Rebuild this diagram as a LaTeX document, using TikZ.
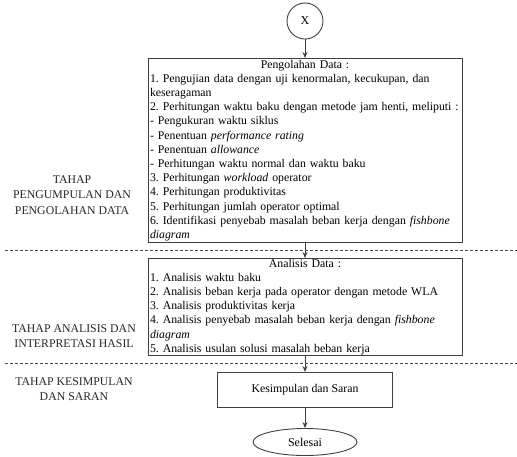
\documentclass[tikz,border=0pt]{standalone}
\usepackage{fontspec}
\setmainfont{Liberation Serif}
\frenchspacing
\usetikzlibrary{arrows.meta,shapes.geometric}
\newcommand{\boxfont}{\fontsize{11.8pt}{14.2pt}\selectfont}
\begin{document}
\begin{tikzpicture}[x=1pt,y=-1pt,
  boxtxt/.style={draw=black!75,line width=0.9pt,rectangle,inner xsep=2pt,inner ysep=0pt,
    font=\boxfont},
  lbl/.style={align=center,font=\fontsize{11.8}{14.5}\selectfont,inner sep=0pt,text=black!85},
  flow/.style={draw=black!75,line width=0.9pt,-{Stealth[length=6pt,width=5pt]}},
  sep/.style={draw=black!70,line width=0.5pt,dash pattern=on 3pt off 2pt}]
\useasboundingbox (0,0) rectangle (517,456);
\node[draw=black!75,line width=0.9pt,circle,minimum size=36pt,inner sep=0pt,
  font=\fontsize{12}{14}\selectfont] (x) at (305,21) {X};
\node[boxtxt,minimum width=314pt,minimum height=184pt,text width=310pt,anchor=north] (b1) at (305,58) {\boxfont\centering Pengolahan Data :\par\raggedright
1. Pengujian data dengan uji kenormalan, kecukupan, dan\\
keseragaman\\
2. Perhitungan waktu baku dengan metode jam henti, meliputi :\\
- Pengukuran waktu siklus\\
- Penentuan \textit{performance rating}\\
- Penentuan \textit{allowance}\\
- Perhitungan waktu normal dan waktu baku\\
3. Perhitungan \textit{workload} operator\\
4. Perhitungan produktivitas\\
5. Perhitungan jumlah operator optimal\\
6. Identifikasi penyebab masalah beban kerja dengan \textit{fishbone}\\
\textit{diagram}\par};
\node[boxtxt,minimum width=314pt,minimum height=97pt,text width=310pt,anchor=north] (b2) at (305,258) {\boxfont\centering Analisis Data :\par\raggedright
1. Analisis waktu baku\\
2. Analisis beban kerja pada operator dengan metode WLA\\
3. Analisis produktivitas kerja\\
4. Analisis penyebab masalah beban kerja dengan \textit{fishbone}\\
\textit{diagram}\\
5. Analisis usulan solusi masalah beban kerja\par};
\node[boxtxt,minimum width=175pt,minimum height=35pt,anchor=north] (b3) at (305,372) {Kesimpulan dan Saran};
\node[draw=black!75,line width=0.9pt,ellipse,minimum width=104pt,minimum height=27pt,inner sep=0pt,
  font=\fontsize{12}{14}\selectfont] (e) at (305,442) {Selesai};
\node[lbl,font=\fontsize{11.8}{15.5}\selectfont] (l1) at (72,195) {TAHAP\\PENGUMPULAN DAN\\PENGOLAHAN DATA};
\node[lbl] (l2) at (74,336) {TAHAP ANALISIS DAN\\INTERPRETASI HASIL};
\node[lbl] (l3) at (74,389) {TAHAP KESIMPULAN\\DAN SARAN};
\coordinate (s1a) at (5,250); \coordinate (s1b) at (517,250);
\coordinate (s2a) at (5,363); \coordinate (s2b) at (517,363);
\draw[sep] (s1a) -- (s1b);
\draw[sep] (s2a) -- (s2b);
\draw[flow] (x) -- (b1);
\draw[flow] (b1) -- (b2);
\draw[flow] (b2) -- (b3);
\draw[flow] (b3) -- (e);
\end{tikzpicture}
\end{document}
